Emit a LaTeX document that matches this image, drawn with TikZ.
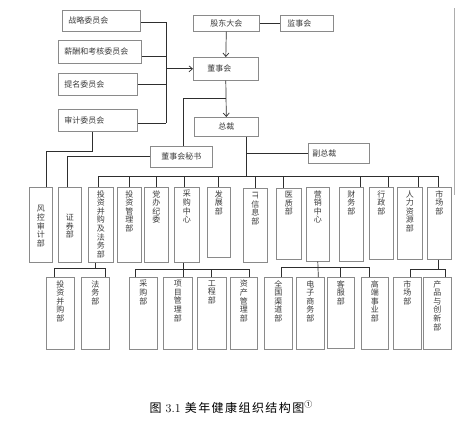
\documentclass[tikz,border=0pt]{standalone}
\usepackage{fontspec}
\usepackage{graphicx}
\newfontfamily\cjk{Noto Sans CJK SC}
\newfontfamily\capcjk[LetterSpace=12]{Noto Sans CJK SC}
\usetikzlibrary{
	arrows.meta,
	positioning,
	calc
}
\definecolor{boxgray}{HTML}{8A8A8A}
\definecolor{txtgray}{HTML}{3C3C3C}
\definecolor{lngray}{HTML}{2E2E2E}
% vertical text inside a column box
\newcommand{\vtxt}[3][t]{\parbox[c][#2pt][#1]{20pt}{\centering\vspace*{3pt}#3}}

\begin{document}
\begin{tikzpicture}[
			x=1pt, y=-1pt,
			font=\cjk\fontsize{8}{8.6}\selectfont,
			hbox/.style={draw=boxgray, line width=.6pt, anchor=north west, inner sep=0pt, align=center, text=txtgray},
			lbox/.style={hbox, inner xsep=6pt, align=left},
			vbox/.style={draw=boxgray, line width=.6pt, anchor=north west, inner sep=0pt, text=txtgray},
			ln/.style={draw=lngray, line width=.7pt},
			arr/.style={ln, -{Straight Barb[length=3.5pt, width=6pt]}}
		]
		\fill[white] (0,0) rectangle (460,426);
		\useasboundingbox (0,0) rectangle (460,426);

		% committees
		\node[lbox, text width=66pt, minimum height=21pt] (zlwy) at (62,10) {战略委员会};
		\node[lbox, text width=71pt, minimum height=23pt] (xcwy) at (58,40) {薪酬和考核委员会};
		\node[lbox, text width=67pt, minimum height=22pt] (tmwy) at (58,73) {提名委员会};
		\node[lbox, text width=67pt, minimum height=22pt] (sjwy) at (58,109) {审计委员会};

		% top of the company
		\node[hbox, minimum width=66pt, minimum height=16pt] (gddh) at (193,15) {股东大会};
		\node[lbox, inner xsep=7pt, text width=39pt, minimum height=16pt] (jsh) at (280,15) {监事会};
		\node[lbox, inner xsep=14pt, text width=37pt, minimum height=23pt] (dsh) at (193,57) {董事会};
		\node[hbox, minimum width=64pt, minimum height=19pt] (zc) at (194,117) {总裁};
		\node[hbox, minimum width=62pt, minimum height=21pt] (dsmz) at (150,146) {董事会秘书};
		\node[lbox, inner xsep=4pt, text width=53pt, minimum height=20pt] (fzc) at (308,143) {副总裁};

		% departments
		\node[vbox, minimum width=23pt] (fksj) at (29,187) {\vtxt[c]{75}{风\\控\\审\\计\\部}};
		\node[vbox, minimum width=23pt] (zqb) at (58,187) {\vtxt[c]{75}{证\\券\\部}};
		\node[vbox, minimum width=25pt] (tzbg) at (88,187) {\vtxt{75}{投\\资\\并\\购\\及\\法\\务\\部}};
		\node[vbox, minimum width=24pt] (tzgl) at (117,187) {\vtxt{75}{投\\资\\管\\理\\部}};
		\node[vbox, minimum width=24pt] (dbjw) at (144,187) {\vtxt{75}{党\\办\\纪\\委}};
		\node[vbox, minimum width=25pt] (cgzx) at (174,187) {\vtxt{75}{采\\购\\中\\心}};
		\node[vbox, minimum width=23pt] (fzb) at (207,187) {\vtxt{70}{发\\展\\部}};
		\node[vbox, minimum width=24pt] (itxx) at (243,188) {\vtxt{74}{\rotatebox{-90}{\sffamily IT}\\信\\息\\部}};
		\node[vbox, minimum width=25pt] (yzb) at (276,188) {\vtxt{71}{医\\质\\部}};
		\node[vbox, minimum width=23pt] (yxzx) at (306,187) {\vtxt{74}{营\\销\\中\\心}};
		\node[vbox, minimum width=24pt] (cwb) at (339,187) {\vtxt{74}{财\\务\\部}};
		\node[vbox, minimum width=24pt] (xzb) at (369,187) {\vtxt{72}{行\\政\\部}};
		\node[vbox, minimum width=25pt] (rlzy) at (397,187) {\vtxt{72}{人\\力\\资\\源\\部}};
		\node[vbox, minimum width=24pt] (scb) at (427,187) {\vtxt{72}{市\\场\\部}};

		% sub-departments
		\node[vbox, minimum width=28pt] (tzbgb) at (46,277) {\vtxt{72}{投\\资\\并\\购\\部}};
		\node[vbox, minimum width=28pt] (fwb) at (81,277) {\vtxt{72}{法\\务\\部}};
		\node[vbox, minimum width=28pt] (cgb) at (129,277) {\vtxt{72}{采\\购\\部}};
		\node[vbox, minimum width=29pt] (xmgl) at (163,277) {\vtxt{72}{项\\目\\管\\理\\部}};
		\node[vbox, minimum width=29pt] (gcb) at (197,277) {\vtxt{72}{工\\程\\部}};
		\node[vbox, minimum width=27pt] (zcgl) at (230,277) {\vtxt{72}{资\\产\\管\\理\\部}};
		\node[vbox, minimum width=28pt] (qgqd) at (264,277) {\vtxt{72}{全\\国\\渠\\道\\部}};
		\node[vbox, minimum width=28pt] (dzsw) at (296,277) {\vtxt{72}{电\\子\\商\\务\\部}};
		\node[vbox, minimum width=27pt] (kfb) at (327,277) {\vtxt{71}{客\\服\\部}};
		\node[vbox, minimum width=27pt] (gdsy) at (361,277) {\vtxt{72}{高\\端\\事\\业\\部}};
		\node[vbox, minimum width=28pt] (scbx) at (393,277) {\vtxt{72}{市\\场\\部}};
		\node[vbox, minimum width=28pt] (cpcx) at (423,277) {\vtxt{72}{产\\品\\与\\创\\新\\部}};

		\node[anchor=west, font=\capcjk\fontsize{12}{13}\selectfont] (tit) at (146,407) {图 {\rmfamily 3.1}\ 美年健康组织结构图\textsuperscript{①}};

		% committees to the board
		\coordinate (wybus) at (166,0);
		\coordinate (zle) at ([yshift=-1.5pt]zlwy.east);
		\coordinate (xce) at ([yshift=-4.5pt]xcwy.east);
		\coordinate (sje) at ([yshift=-3pt]sjwy.east);
		\draw[ln] (zle) -- (zle -| wybus);
		\draw[ln] (xce) -- (xce -| wybus);
		\draw[ln] (tmwy.east) -- (tmwy.east -| wybus);
		\draw[ln] (sje) -- (sje -| wybus);
		\draw[ln] (zle -| wybus) -- (sje -| wybus);
		\draw[arr] (dsh.west -| wybus) -- (dsh.west);

		\draw[ln] (gddh.east) -- (jsh.west);
		\draw[arr] (gddh.south) -- (dsh.north);
		\draw[arr] (dsh.south) -- (zc.north);
		\coordinate (dsj) at (225.5,98);
		\draw[ln] (dsj) -| ([xshift=2pt]dsmz.north);

		\draw[ln] ([xshift=-5.5pt]sjwy.south) -- ++(0,20) -| ([xshift=6pt]fksj.north);
		\draw[ln] (dsmz.west) -| ([xshift=-2.5pt]zqb.north);

		% president to the departments
		\coordinate (zbus) at (246,176);
		\coordinate (tzd) at ([xshift=-2.5pt]tzbg.north);
		\coordinate (cgd) at ([xshift=-2.5pt]cgzx.north);
		\coordinate (yzd) at ([xshift=-5.5pt]yzb.north);
		\coordinate (cwd) at ([xshift=9pt]cwb.north);
		\coordinate (xzd) at ([xshift=7pt]xzb.north);
		\coordinate (rld) at ([xshift=8.5pt]rlzy.north);
		\coordinate (scd) at ([xshift=-1pt]scb.north);
		\draw[ln] (zc.south -| zbus) -- (zbus);
		\draw[ln] (fzc.west -| zbus) -- (fzc.west);
		\draw[ln] (tzd |- zbus) -- (scd |- zbus);
		\draw[ln] (tzd |- zbus) -- (tzd);
		\draw[ln] (tzgl.north |- zbus) -- (tzgl.north);
		\draw[ln] (dbjw.north |- zbus) -- (dbjw.north);
		\draw[ln] (cgd |- zbus) -- (cgd);
		\draw[ln] (fzb.north |- zbus) -- (fzb.north);
		\draw[ln] (itxx.north |- zbus) -- (itxx.north);
		\draw[ln] (yzd |- zbus) -- (yzd);
		\draw[ln] (cwd |- zbus) -- (cwd);
		\draw[ln] (xzd |- zbus) -- (xzd);
		\draw[ln] (rld |- zbus) -- (rld);
		\draw[ln] (scd |- zbus) -- (scd);

		% departments to the sub-departments
		\draw[ln] ([xshift=-5.5pt]tzbg.south) -- ++(0,6);
		\draw[ln] ([xshift=-6pt]tzbgb.north) -- ++(0,-9) -| ([xshift=10pt]fwb.north);
		\draw[ln] ([xshift=-3.5pt]cgzx.south) -- ([xshift=5.5pt]xmgl.north);
		\draw[ln] ([xshift=-8pt]cgb.north) -- ++(0,-8) -| ([xshift=5.5pt]zcgl.north);
		\draw[ln] (gcb.north) -- ++(0,-8);
		\draw[ln] (yxzx.south) -- ([xshift=8pt]dzsw.north);
		\draw[ln] ([xshift=3pt]qgqd.north) -- ++(0,-10) -| ([xshift=-5.5pt]gdsy.north);
		\draw[ln] (kfb.north) -- ++(0,-10);
		\draw[ln] ([xshift=-1pt]scb.south) -- ++(0,10);
		\draw[ln] ([xshift=3pt]scbx.north) -- ++(0,-8) -| ([xshift=8pt]cpcx.north);

		\draw[boxgray!70, line width=.5pt] (454,8) -- (454,195);
	\end{tikzpicture}
\end{document}
